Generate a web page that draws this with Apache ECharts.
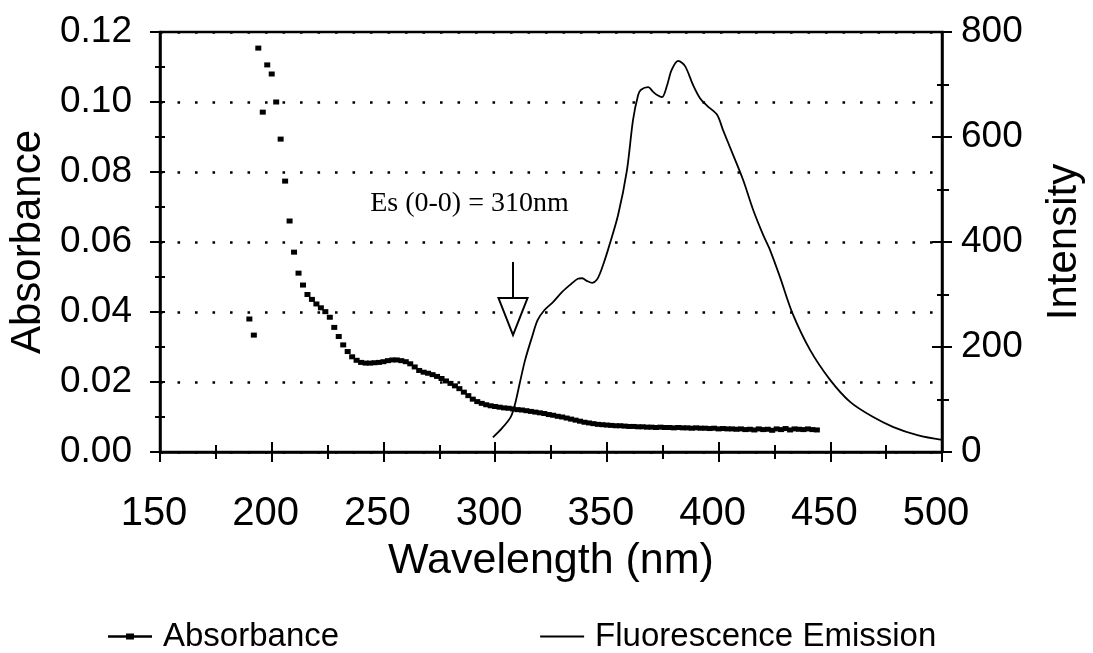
<!DOCTYPE html>
<html>
<head>
<meta charset="utf-8">
<script src="https://cdn.jsdelivr.net/npm/echarts@6/dist/echarts.min.js"></script>
<style>
html,body{margin:0;padding:0;background:#fff;}
#chart{width:1093px;height:653px;}
</style>
</head>
<body>
<div id="chart"></div>
<script>
// ---- data ----
const xTicks = [150, 500, 50];          // min, max, interval (nm)
const absTicks = [0, 0.12, 0.02];
const intTicks = [0, 800, 200];

// Absorbance readings (wavelength nm, absorbance)
const absWavelength = [190,192,194,196,198,200,202,204,206,208,210,212,214,216,218,220,222,224,226,228,230,232,234,236,238,240,242,244,246,248,250,252,254,256,258,260,262,264,266,268,270,272,274,276,278,280,282,284,286,288,290,292,294,296,298,300,302,304,306,308,310,312,314,316,318,320,322,324,326,328,330,332,334,336,338,340,342,344,346,348,350,352,354,356,358,360,362,364,366,368,370,372,374,376,378,380,382,384,386,388,390,392,394,396,398,400,402,404,406,408,410,412,414,416,418,420,422,424,426,428,430,432,434,436,438,440,442,444];
const absValues = [0.0380,0.0334,0.1154,0.0971,0.1106,0.1080,0.1000,0.0894,0.0774,0.0660,0.0571,0.0511,0.0477,0.0450,0.0436,0.0423,0.0412,0.0401,0.0385,0.0356,0.0330,0.0306,0.0287,0.0272,0.0262,0.0256,0.0254,0.0254,0.0255,0.0256,0.0258,0.0261,0.0263,0.0263,0.0261,0.0258,0.0252,0.0243,0.0233,0.0228,0.0225,0.0221,0.0216,0.0210,0.0203,0.0196,0.0189,0.0181,0.0171,0.0161,0.0151,0.0144,0.0139,0.0135,0.0132,0.0130,0.0128,0.0126,0.0125,0.0123,0.0121,0.0120,0.0118,0.0116,0.0114,0.0112,0.0110,0.0107,0.0105,0.0102,0.0100,0.0097,0.0094,0.0091,0.0088,0.0085,0.0083,0.0081,0.0079,0.0078,0.0077,0.0076,0.0075,0.0075,0.0074,0.0073,0.0073,0.0072,0.0072,0.0071,0.0071,0.0070,0.0071,0.0070,0.0070,0.0069,0.0070,0.0069,0.0069,0.0068,0.0069,0.0068,0.0068,0.0067,0.0068,0.0066,0.0067,0.0066,0.0066,0.0065,0.0066,0.0064,0.0065,0.0063,0.0066,0.0064,0.0065,0.0062,0.0066,0.0064,0.0067,0.0063,0.0066,0.0065,0.0064,0.0066,0.0064,0.0063];

// Fluorescence emission readings (wavelength nm, intensity)
const flWavelength = [299,303,307,309,311,313.4,316.5,319,322,326,330,334,337,339,341,343.5,345.5,347,349,350.5,355,359,361.7,364,365.3,368.5,370.7,372.5,374.7,377,379,382,385,388.6,391.7,395,399.4,402,406.5,411,415.5,420,423,427.5,433,441,450,459,469,478,489,500];
const flValues   = [28,45,67,93,131,175,219,251,270,286,305,320,330,331,326,322,328,341,365,385,451,537,632,680,690,695,686,680,676,699,728,745,735,699,674,659,642,613,566,518,461,413,385,333,265,194,137,95,67,48,32,23];

// Annotation
const noteText = 'Es (0-0) = 310nm';
const notePos = [288.5, 0.0711];
const arrowNm = 308;
const arrowAbs = [0.0543, 0.0440, 0.0334]; // shaft top, head base, tip
const arrowHalfNm = 6.5;

const seriesNames = ['Absorbance', 'Fluorescence Emission'];

// ---- chart ----
const chart = echarts.init(document.getElementById('chart'), null, {renderer: 'canvas'});
const SANS = "'Liberation Sans', Arial, Helvetica, sans-serif";
const gridRect = {left: 160, right: 151, top: 32, bottom: 201, containLabel: false, outerBoundsMode: 'none'};

const absData = absWavelength.map((w, i) => [w, absValues[i]]);
const flData = flWavelength.map((w, i) => [w, flValues[i]]);

const option = {
  animation: false,
  backgroundColor: '#fff',
  grid: [
    Object.assign({show: true, borderColor: '#000', borderWidth: 2.5, backgroundColor: 'transparent'}, gridRect),
    Object.assign({show: false}, gridRect)
  ],
  legend: {
    left: 108, top: 620, padding: 0,
    itemWidth: 44, itemHeight: 6, itemGap: 201,
    textStyle: {fontFamily: SANS, fontSize: 33, color: '#000', padding: [0, 0, 0, 6]},
    data: [
      {name: seriesNames[0], icon: 'path://M0,1.75 L44,1.75 L44,4.25 L0,4.25 Z M18,0 L26,0 L26,6 L18,6 Z', itemStyle: {color: '#000', opacity: 1}},
      {name: seriesNames[1], icon: 'path://M0,2 L45,2 L45,4 L0,4 Z M0,0 L0.01,0 L0,0.01 Z M0,6 L0.01,6 L0,5.99 Z', itemStyle: {color: '#000', opacity: 1}}
    ]
  },
  xAxis: [
    {
      type: 'value', gridIndex: 0, min: xTicks[0], max: xTicks[1], interval: xTicks[2],
      name: 'Wavelength (nm)', nameLocation: 'middle', nameGap: 88,
      nameTextStyle: {fontFamily: SANS, fontSize: 43, color: '#000'},
      axisLine: {show: true, lineStyle: {color: '#000', width: 2.5}},
      axisTick: {show: true, inside: false, length: 10, lineStyle: {color: '#000', width: 2}},
      minorTick: {show: true, splitNumber: 2, length: 7, lineStyle: {color: '#000', width: 2}},
      axisLabel: {fontFamily: SANS, fontSize: 40, color: '#000', margin: 42, padding: [0, 12, 0, 0]},
      splitLine: {show: false}
    },
    {
      type: 'value', gridIndex: 1, min: xTicks[0], max: xTicks[1], interval: xTicks[2],
      axisLine: {show: false},
      axisTick: {show: true, inside: true, length: 10, lineStyle: {color: '#000', width: 2}},
      minorTick: {show: true, splitNumber: 2, length: 7, lineStyle: {color: '#000', width: 2}},
      axisLabel: {show: false}, splitLine: {show: false}
    }
  ],
  yAxis: [
    {
      type: 'value', gridIndex: 0, position: 'left', min: absTicks[0], max: absTicks[1], interval: absTicks[2],
      name: 'Absorbance', nameLocation: 'middle', nameGap: 111,
      nameTextStyle: {fontFamily: SANS, fontSize: 42, color: '#000'},
      axisLine: {show: true, lineStyle: {color: '#000', width: 2.5}},
      axisTick: {show: true, inside: false, length: 10, lineStyle: {color: '#000', width: 2}},
      minorTick: {show: true, splitNumber: 2, length: 5, lineStyle: {color: '#000', width: 2}},
      axisLabel: {fontFamily: SANS, fontSize: 37, color: '#000', margin: 28,
                  formatter: v => v.toFixed(2)},
      splitLine: {show: true, lineStyle: {color: '#000', width: 2.6, type: [2.6, 14.9]}}
    },
    {
      type: 'value', gridIndex: 0, position: 'right', min: intTicks[0], max: intTicks[1], interval: intTicks[2],
      name: 'Intensity', nameLocation: 'middle', nameGap: 101, nameRotate: 90,
      nameTextStyle: {fontFamily: SANS, fontSize: 42, color: '#000'},
      axisLine: {show: true, lineStyle: {color: '#000', width: 2.5}},
      axisTick: {show: true, inside: false, length: 10, lineStyle: {color: '#000', width: 2}},
      minorTick: {show: true, splitNumber: 2, length: 7, lineStyle: {color: '#000', width: 2}},
      axisLabel: {fontFamily: SANS, fontSize: 37, color: '#000', margin: 19},
      splitLine: {show: false}
    },
    {
      type: 'value', gridIndex: 1, position: 'left', min: absTicks[0], max: absTicks[1], interval: absTicks[2],
      axisLine: {show: false},
      axisTick: {show: true, inside: true, length: 5, lineStyle: {color: '#000', width: 2}},
      minorTick: {show: true, splitNumber: 2, length: 5, lineStyle: {color: '#000', width: 2}},
      axisLabel: {show: false}, splitLine: {show: false}
    },
    {
      type: 'value', gridIndex: 1, position: 'right', min: intTicks[0], max: intTicks[1], interval: intTicks[2],
      axisLine: {show: false},
      axisTick: {show: true, inside: true, length: 10, lineStyle: {color: '#000', width: 2}},
      minorTick: {show: true, splitNumber: 2, length: 5, lineStyle: {color: '#000', width: 2}},
      axisLabel: {show: false}, splitLine: {show: false}
    }
  ],
  series: [
    {
      name: seriesNames[0], type: 'scatter', xAxisIndex: 0, yAxisIndex: 0,
      symbol: 'rect', symbolSize: [6, 5],
      itemStyle: {color: '#000', opacity: 1},
      data: absData
    },
    {
      name: seriesNames[1], type: 'line', xAxisIndex: 0, yAxisIndex: 1,
      showSymbol: false, symbol: 'none', smooth: 0.3,
      lineStyle: {color: '#000', width: 1.8},
      itemStyle: {color: '#000'},
      data: flData
    }
  ]
};
chart.setOption(option);

// annotation placed in data coordinates
const px = (x, y) => chart.convertToPixel({xAxisIndex: 0, yAxisIndex: 0}, [x, y]);
const shaftTop = px(arrowNm, arrowAbs[0]);
const headBase = px(arrowNm, arrowAbs[1]);
const tip = px(arrowNm, arrowAbs[2]);
const headL = px(arrowNm - arrowHalfNm, arrowAbs[1]);
const headR = px(arrowNm + arrowHalfNm, arrowAbs[1]);
const note = px(notePos[0], notePos[1]);

chart.setOption({
  graphic: [
    {type: 'text', x: note[0], y: note[1], style: {text: noteText, font: "28px 'Liberation Serif', 'Times New Roman', serif", fill: '#000', align: 'center', verticalAlign: 'middle'}},
    {type: 'line', shape: {x1: shaftTop[0], y1: shaftTop[1], x2: headBase[0], y2: headBase[1]}, style: {stroke: '#000', lineWidth: 2}},
    {type: 'polygon', shape: {points: [headL, headR, tip]}, style: {fill: 'none', stroke: '#000', lineWidth: 2}}
  ]
});
</script>
</body>
</html>
